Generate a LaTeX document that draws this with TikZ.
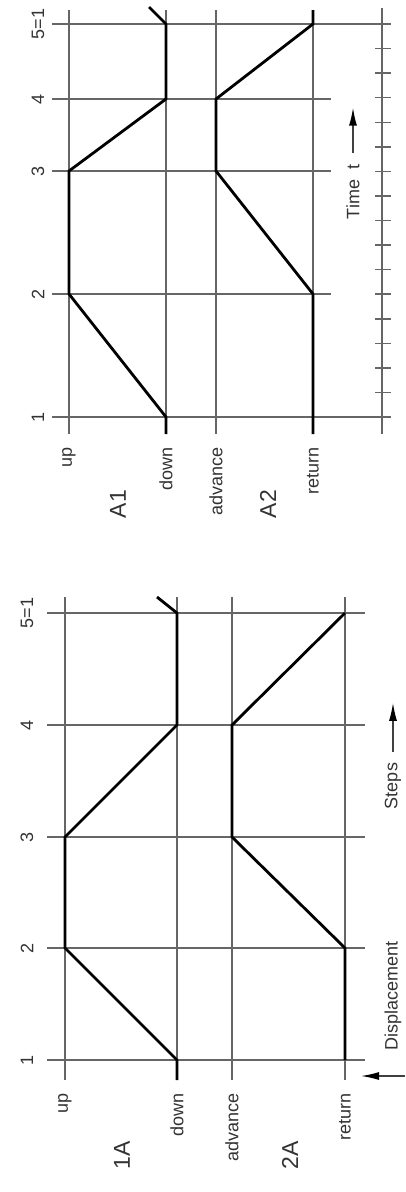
\documentclass[tikz,border=0pt]{standalone}
\usepackage{fontspec}
\setmainfont{Liberation Sans}
\usetikzlibrary{arrows.meta}

\begin{document}
\begin{tikzpicture}[x=1pt, y=-1pt,
    gridline/.style = {draw=black!60, line width=1.5pt},
    motion/.style   = {line width=2.8pt},
    lbl/.style      = {rotate=90, text=black!80, inner sep=0pt,
                       font=\fontsize{18}{20}\selectfont},
    poslbl/.style   = {lbl, anchor=east},
    cyllbl/.style   = {rotate=90, text=black!80, inner sep=0pt,
                       font=\fontsize{23}{26}\selectfont},
    axisarrow/.style= {draw=black!75, line width=1.4pt,
                       -{Latex[length=18pt,width=8pt,black]}}
]
    \useasboundingbox (0,0) rectangle (405,1192);

    %-- Time diagram (top) ---------------------------------------------------
    \foreach \x in {69,166,216,313}
        \draw[gridline] (\x,10) -- (\x,434);
    \foreach \y in {24,417}
        \draw[gridline] (52,\y) -- (391,\y);
    \foreach \y in {99,171,294}
        \draw[gridline] (52,\y) -- (331,\y);

    % time axis with one tick per time unit
    \draw[gridline] (382,8) -- (382,434);
    \foreach \k in {1,...,15}
        \draw[gridline] (375,{417-\k*24.56}) -- (391,{417-\k*24.56});

    \foreach \y/\txt [count=\i] in {417/1, 294/2, 171/3, 99/4, 24/{5=1}}
        \node[lbl] (tstep\i) at (38,\y) {\txt};

    \node[poslbl] (tup)   at (69,447)  {up};
    \node[poslbl] (tdown) at (166,447) {down};
    \node[poslbl] (tadv)  at (216,447) {advance};
    \node[poslbl] (tret)  at (313,447) {return};
    \node[cyllbl] (ta1)   at (118,504) {A1};
    \node[cyllbl] (ta2)   at (268,504) {A2};

    \node[lbl] (time) at (353,192) {Time\ \ t};
    \draw[axisarrow] ([yshift=12pt]time.east) -- ++(0,-45);

    % motion curves
    \draw[motion] (166,434) -- (166,417) -- (69,294) -- (69,171)
                  -- (166,99) -- (166,24) -- (149,7);
    \draw[motion] (313,434) -- (313,294) -- (216,171) -- (216,99)
                  -- (313,24) -- (313,10);

    %-- Displacement-step diagram (bottom) -----------------------------------
    \foreach \x in {65,177,232,345}
        \draw[gridline] (\x,597) -- (\x,1080);
    \foreach \y in {613,725,837,948,1060}
        \draw[gridline] (47,\y) -- (365,\y);

    \foreach \y/\txt [count=\i] in {1060/1, 948/2, 837/3, 725/4, 613/{5=1}}
        \node[lbl] (sstep\i) at (27,\y) {\txt};

    \node[poslbl] (sup)   at (65,1093)  {up};
    \node[poslbl] (sdown) at (177,1093) {down};
    \node[poslbl] (sadv)  at (232,1093) {advance};
    \node[poslbl] (sret)  at (345,1093) {return};
    \node[cyllbl] (s1a)   at (122,1155) {1A};
    \node[cyllbl] (s2a)   at (290,1155) {2A};

    \node[lbl] (steps) at (393,786) {Steps};
    \draw[axisarrow] ([yshift=11pt]steps.east) -- ++(0,-49);

    \node[lbl] (displ) at (393,996) {Displacement};
    \coordinate (dtail) at (405,1076);
    \draw[axisarrow] (dtail) -- ++(-44,0);

    % motion curves
    \draw[motion] (177,1080) -- (177,1060) -- (65,948) -- (65,837)
                  -- (177,725) -- (177,613) -- (157,597);
    \draw[motion] (345,1060) -- (345,948) -- (232,837) -- (232,725)
                  -- (345,613);

\end{tikzpicture}
\end{document}
